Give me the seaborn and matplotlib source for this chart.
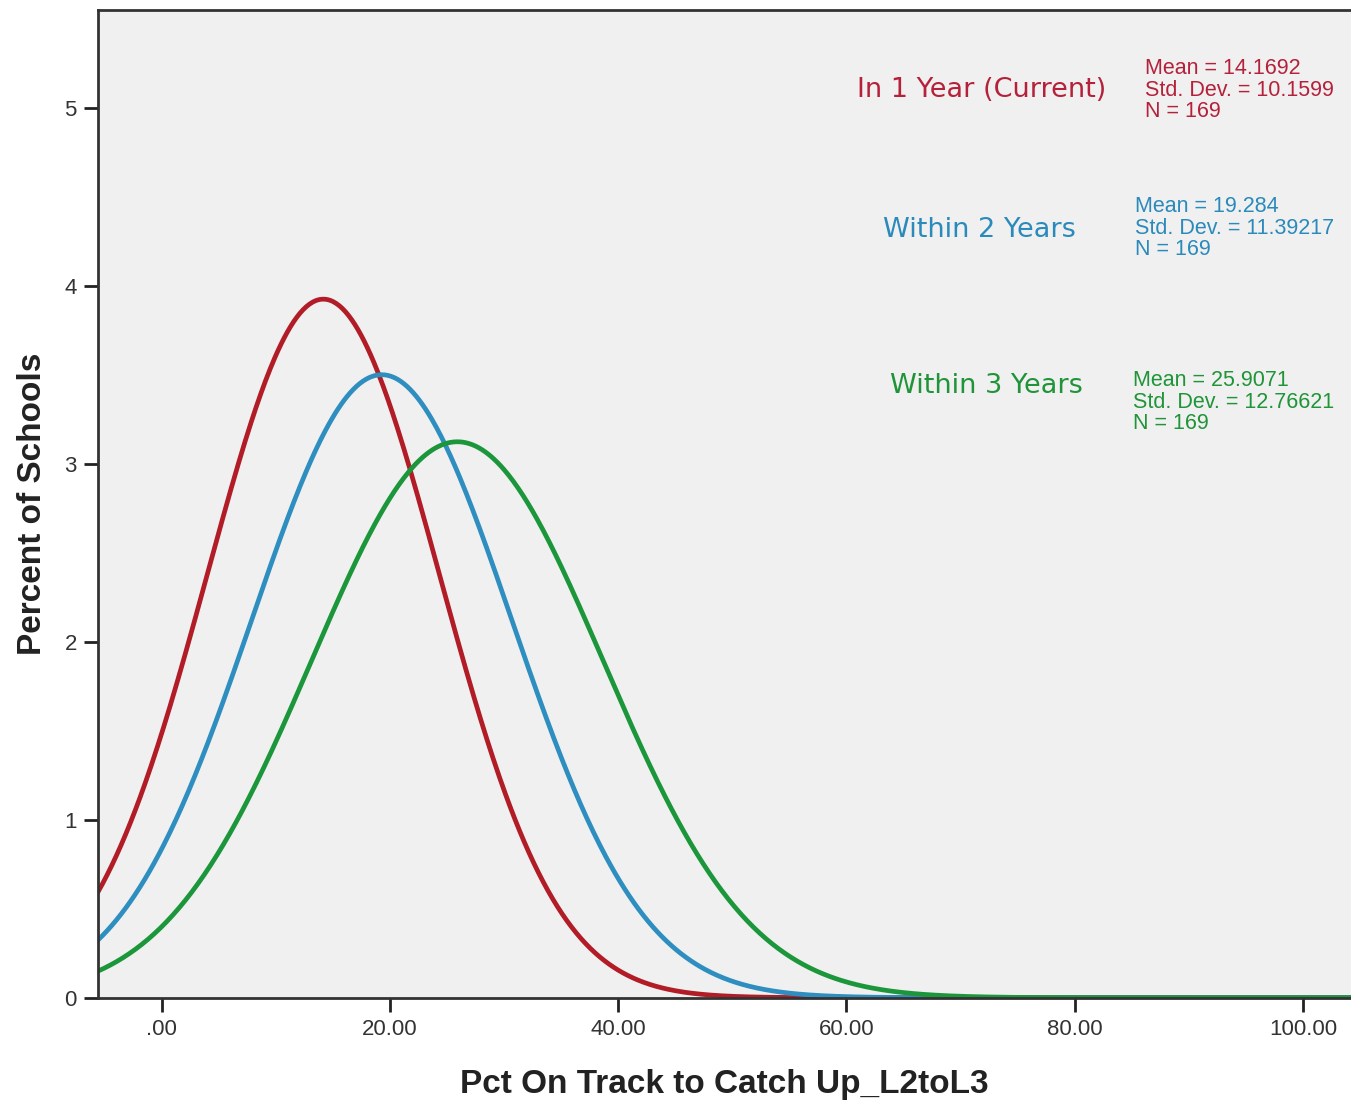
import numpy as np
import pandas as pd
import seaborn as sns
import matplotlib.pyplot as plt

# fitted normal curves as reported in the chart
groups = ["In 1 Year (Current)", "Within 2 Years", "Within 3 Years"]
means = [14.1692, 19.284, 25.9071]
std_devs = [10.1599, 11.39217, 12.76621]
mean_labels = ["14.1692", "19.284", "25.9071"]
sd_labels = ["10.1599", "11.39217", "12.76621"]
counts = [169, 169, 169]
line_colors = ["#b11c26", "#2e8ec0", "#1c963a"]
text_colors = ["#b5213a", "#2a8abb", "#1f9438"]

x_ticks = [0, 20, 40, 60, 80, 100]
x_ticklabels = [".00", "20.00", "40.00", "60.00", "80.00", "100.00"]
y_ticks = [0, 1, 2, 3, 4, 5]

xmin, xmax = -5.6, 104.2
ymin, ymax = 0, 5.552

xs = np.linspace(xmin, xmax, 800)
rows = []
for g, m, s in zip(groups, means, std_devs):
    pct = 100 * np.exp(-0.5 * ((xs - m) / s) ** 2) / (s * np.sqrt(2 * np.pi))
    rows.append(pd.DataFrame({"x": xs, "pct": pct, "group": g}))
df = pd.concat(rows, ignore_index=True)

sns.set_style("white")
plt.rcParams["font.family"] = ["Liberation Sans", "DejaVu Sans"]

W, H = 1351, 1101
fig = plt.figure(figsize=(W / 100, H / 100), dpi=100)
ax = fig.add_axes([97.7 / W, 1 - 997.7 / H, (W - 97.7) / W, (997.7 - 10) / H])
ax.set_facecolor("#f0f0f0")

sns.lineplot(data=df, x="x", y="pct", hue="group", palette=line_colors,
             lw=3.4, legend=False, ax=ax)

ax.set_xlim(xmin, xmax)
ax.set_ylim(ymin, ymax)
ax.set_xticks(x_ticks)
ax.set_xticklabels(x_ticklabels)
ax.set_yticks(y_ticks)
ax.tick_params(axis="both", direction="out", length=10, width=2, color="#222222",
               labelsize=16, labelcolor="#333333", pad=5,
               bottom=True, left=True)
for side in ["left", "bottom", "top"]:
    ax.spines[side].set_color("#333333")
    ax.spines[side].set_linewidth(2)
ax.spines["right"].set_visible(False)

ax.set_xlabel("Pct On Track to Catch Up_L2toL3", fontsize=24, fontweight="bold",
              color="#222222", labelpad=21)
ax.set_ylabel("Percent of Schools", fontsize=24, fontweight="bold",
              color="#222222", labelpad=12)

# group labels and summary statistics
label_pos = [(1106, 90), (1076, 230), (1083, 386)]
stat_pos = [(1145, 90), (1135, 228), (1133, 402)]
for i, g in enumerate(groups):
    lx, ly = label_pos[i]
    fig.text(lx / W, 1 - ly / H, g, color=text_colors[i], fontsize=19.5,
             family="DejaVu Sans", ha="right", va="center")
    sx, sy = stat_pos[i]
    stats = f"Mean = {mean_labels[i]}\nStd. Dev. = {sd_labels[i]}\nN = {counts[i]}"
    fig.text(sx / W, 1 - sy / H, stats, color=text_colors[i], fontsize=15.5,
             family="Liberation Sans", ha="left", va="center", linespacing=1.05)

fig.savefig("out.png", dpi=100)
